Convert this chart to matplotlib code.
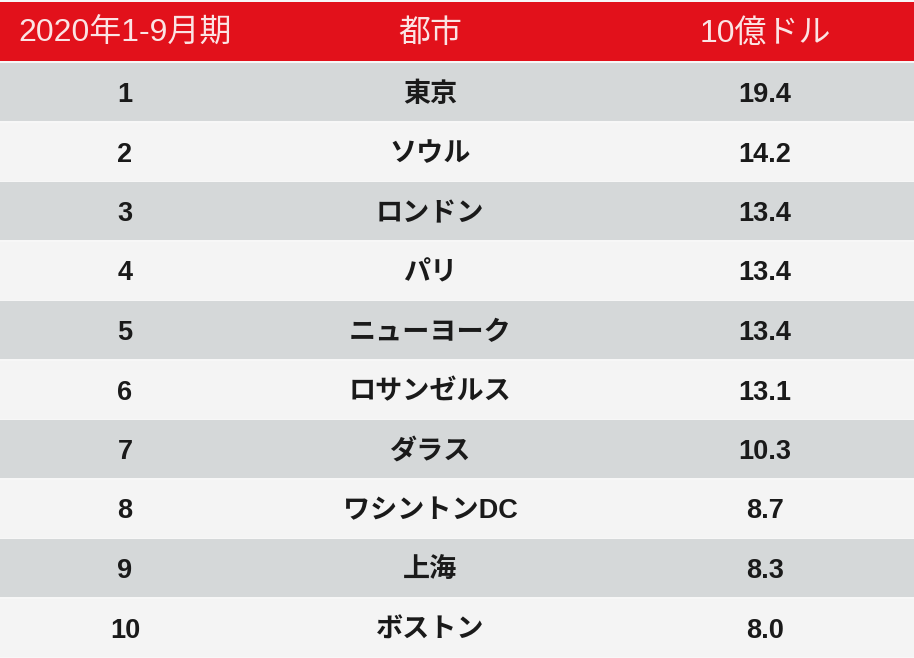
import matplotlib.pyplot as plt
import matplotlib.patches as mpatches

plt.rcParams['font.family'] = ['Liberation Sans', 'Noto Sans CJK JP', 'DejaVu Sans']

# table content
headers = ["2020年1-9月期", "都市", "10億ドル"]
ranks = [1, 2, 3, 4, 5, 6, 7, 8, 9, 10]
cities = ["東京", "ソウル", "ロンドン", "パリ", "ニューヨーク",
          "ロサンゼルス", "ダラス", "ワシントンDC", "上海", "ボストン"]
values = [19.4, 14.2, 13.4, 13.4, 13.4, 13.1, 10.3, 8.7, 8.3, 8.0]

W, H = 914, 658
col_x = [125, 430, 765]
header_top, header_bot = 2, 61
row_top, row_h = 63, 59.5

fig = plt.figure(figsize=(W / 100, H / 100), dpi=100)
ax = fig.add_axes([0, 0, 1, 1])
ax.set_xlim(0, W)
ax.set_ylim(H, 0)
ax.axis('off')
fig.patch.set_facecolor('#f7f7f7')

# header band
ax.add_patch(mpatches.Rectangle((0, header_top), W, header_bot - header_top,
                                color='#e2111b', lw=0))
for x, h in zip(col_x, headers):
    ax.text(x, 42, h, ha='center', va='baseline',
            fontsize=23, color='#fbe4e4')

# body rows
for i, (r, c, v) in enumerate(zip(ranks, cities, values)):
    top = row_top + i * row_h
    face = '#d5d8d9' if i % 2 == 0 else '#f4f4f4'
    ax.add_patch(mpatches.Rectangle((0, top), W, row_h - 1.5, color=face, lw=0))
    for x, t in zip(col_x, [str(r), c, f"{v:.1f}"]):
        ax.text(x, top + 39, t, ha='center', va='baseline', fontsize=19.5,
                fontweight='bold', color='#1a1a1a')

fig.savefig('out.png', dpi=100)
